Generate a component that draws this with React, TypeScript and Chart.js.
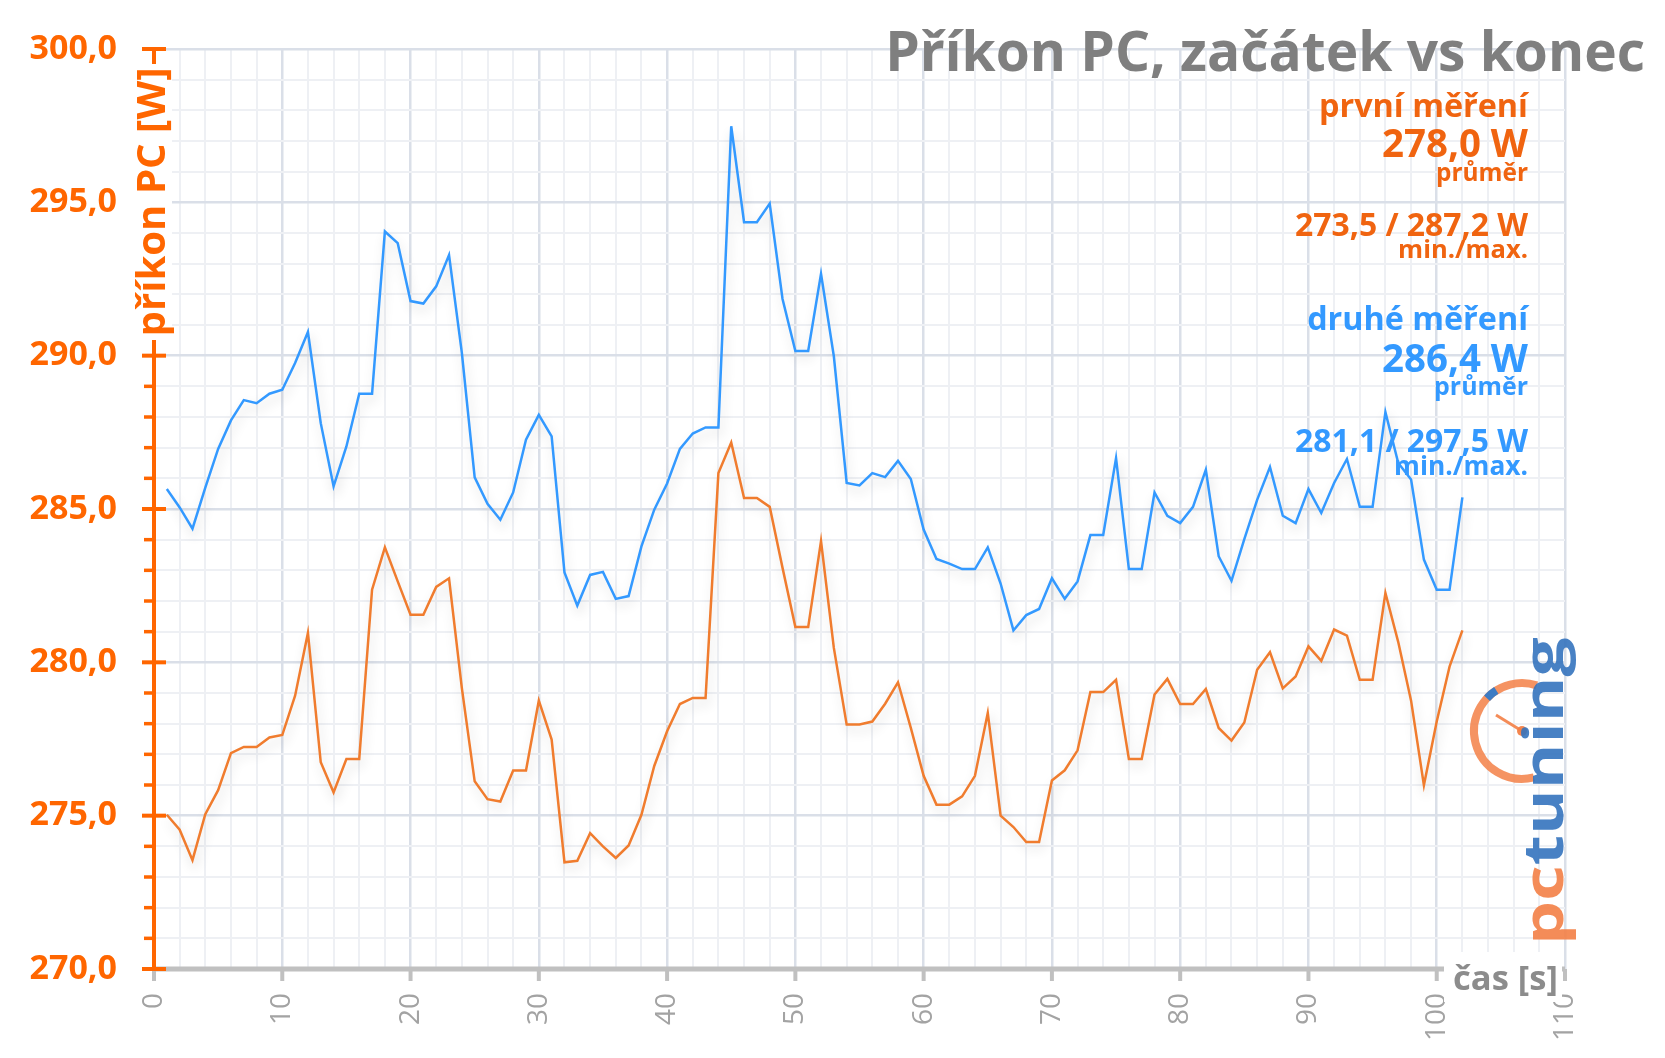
import React, { useEffect, useRef } from 'react';
import { Chart, registerables } from 'chart.js';

Chart.register(...registerables);

// ---------- data ----------
const seconds = [
  1, 2, 3, 4, 5, 6, 7, 8, 9, 10, 11, 12, 13, 14, 15, 16, 17, 18, 19, 20,
  21, 22, 23, 24, 25, 26, 27, 28, 29, 30, 31, 32, 33, 34, 35, 36, 37, 38, 39, 40,
  41, 42, 43, 44, 45, 46, 47, 48, 49, 50, 51, 52, 53, 54, 55, 56, 57, 58, 59, 60,
  61, 62, 63, 64, 65, 66, 67, 68, 69, 70, 71, 72, 73, 74, 75, 76, 77, 78, 79, 80,
  81, 82, 83, 84, 85, 86, 87, 88, 89, 90, 91, 92, 93, 94, 95, 96, 97, 98, 99, 100,
  101, 102,
];

const firstRun = [
  275.03, 274.54, 273.55, 275.05, 275.83, 277.04, 277.24, 277.24, 277.55, 277.63,
  278.91, 280.96, 276.74, 275.76, 276.85, 276.85, 282.37, 283.75, 282.64, 281.55,
  281.55, 282.46, 282.74, 279.16, 276.12, 275.54, 275.46, 276.47, 276.47, 278.75,
  277.48, 273.48, 273.53, 274.43, 274.0, 273.62, 274.03, 275.03, 276.62, 277.75,
  278.64, 278.84, 278.84, 286.17, 287.17, 285.36, 285.36, 285.07, 283.08, 281.15,
  281.15, 283.95, 280.47, 277.97, 277.97, 278.07, 278.65, 279.35, 277.86, 276.3,
  275.36, 275.36, 275.63, 276.3, 278.35, 275.0, 274.63, 274.14, 274.14, 276.15,
  276.48, 277.13, 279.03, 279.03, 279.43, 276.85, 276.85, 278.95, 279.46, 278.64,
  278.64, 279.13, 277.86, 277.45, 278.04, 279.76, 280.33, 279.15, 279.54, 280.52,
  280.05, 281.07, 280.87, 279.43, 279.43, 282.26, 280.66, 278.75, 275.99, 278.07,
  279.86, 281.04,
];

const secondRun = [
  285.65, 285.05, 284.36, 285.7, 286.96, 287.89, 288.55, 288.45, 288.76, 288.89,
  289.76, 290.77, 287.8, 285.74, 287.04, 288.76, 288.76, 294.05, 293.67, 291.78,
  291.7, 292.26, 293.28, 290.09, 286.03, 285.17, 284.65, 285.54, 287.26, 288.07,
  287.37, 282.93, 281.85, 282.85, 282.95, 282.07, 282.16, 283.78, 284.98, 285.83,
  286.96, 287.46, 287.66, 287.66, 297.48, 294.35, 294.35, 294.96, 291.85, 290.15,
  290.15, 292.67, 289.98, 285.85, 285.77, 286.17, 286.04, 286.57, 285.98, 284.33,
  283.37, 283.22, 283.04, 283.04, 283.75, 282.57, 281.04, 281.54, 281.74, 282.74,
  282.07, 282.64, 284.15, 284.15, 286.66, 283.04, 283.04, 285.54, 284.78, 284.54,
  285.07, 286.28, 283.46, 282.66, 284.02, 285.3, 286.37, 284.78, 284.54, 285.65,
  284.87, 285.85, 286.63, 285.07, 285.07, 288.16, 286.5, 285.96, 283.35, 282.37,
  282.37, 285.38,
];

const TITLE = 'Příkon PC, začátek vs konec';
const Y_TITLE = 'příkon PC [W]';
const X_TITLE = 'čas [s]';
const firstName = 'první měření';
const firstAvg = '278,0 W';
const firstMinMax = '273,5 / 287,2 W';
const secondName = 'druhé měření';
const secondAvg = '286,4 W';
const secondMinMax = '281,1 / 297,5 W';
const avgCaption = 'průměr';
const minMaxCaption = 'min./max.';
const logoA = 'pc';
const logoB = 'tuning';

// ---------- styles ----------
const FONT = '"Open Sans", "DejaVu Sans", sans-serif';
const ORANGE_AXIS = '#ff6600';
const ORANGE_TEXT = '#f06410';
const ORANGE_LINE = '#f07c2e';
const BLUE = '#3399ff';
const GRID_MAJOR = '#dadfe8';
const GRID_MINOR = '#eef0f4';
const GRAY_AXIS = '#c0c0c0';

function setFit(ctx: CanvasRenderingContext2D, text: string, weight: string, targetW: number) {
  ctx.font = `${weight} 100px ${FONT}`;
  const w = ctx.measureText(text).width;
  const size = (100 * targetW) / w;
  ctx.font = `${weight} ${size}px ${FONT}`;
  return size;
}

function rightText(ctx: CanvasRenderingContext2D, text: string, color: string, targetW: number, x: number, baseline: number) {
  setFit(ctx, text, '700', targetW);
  ctx.fillStyle = color;
  ctx.textAlign = 'right';
  ctx.textBaseline = 'alphabetic';
  ctx.fillText(text, x, baseline);
}

const shadowPlugin = {
  id: 'lineShadow',
  beforeDatasetsDraw(chart: any) {
    const c = chart.ctx;
    c.save();
    c.shadowColor = 'rgba(0,0,0,0.16)';
    c.shadowBlur = 12;
    c.shadowOffsetX = 2;
    c.shadowOffsetY = 6;
  },
  afterDatasetsDraw(chart: any) {
    chart.ctx.restore();
  },
};

const decorPlugin = {
  id: 'decor',
  afterDraw(chart: any) {
    const ctx: CanvasRenderingContext2D = chart.ctx;
    const ca = chart.chartArea;
    const xs = chart.scales.x;
    const ys = chart.scales.y;
    ctx.save();

    // x axis line + ticks
    ctx.strokeStyle = GRAY_AXIS;
    ctx.lineWidth = 5;
    ctx.beginPath();
    ctx.moveTo(ca.left, ca.bottom);
    ctx.lineTo(ca.right, ca.bottom);
    ctx.stroke();
    ctx.lineWidth = 4;
    xs.ticks.forEach((t: any) => {
      if (Math.round(t.value) % 10 !== 0) return;
      const px = xs.getPixelForValue(t.value);
      ctx.beginPath();
      ctx.moveTo(px, ca.bottom);
      ctx.lineTo(px, ca.bottom + 12);
      ctx.stroke();
    });

    // y axis line + ticks
    ctx.strokeStyle = ORANGE_AXIS;
    ctx.lineWidth = 4;
    ctx.beginPath();
    ctx.moveTo(ca.left, ca.top - 1);
    ctx.lineTo(ca.left, ca.bottom + 2);
    ctx.stroke();
    ys.ticks.forEach((t: any) => {
      const py = ys.getPixelForValue(t.value);
      const major = Math.round(t.value) % 5 === 0;
      ctx.lineWidth = major ? 4 : 3.5;
      ctx.beginPath();
      ctx.moveTo(ca.left - (major ? 12 : 10), py);
      ctx.lineTo(major ? ca.left + 12 : ca.left, py);
      ctx.stroke();
    });

    // y axis title with white backing
    ctx.fillStyle = '#ffffff';
    ctx.fillRect(ca.left - 26, 64, 44, 276);
    ctx.save();
    ctx.translate(ca.left + 11, 202);
    ctx.rotate(-Math.PI / 2);
    setFit(ctx, Y_TITLE, '700', 269);
    ctx.fillStyle = ORANGE_AXIS;
    ctx.textAlign = 'center';
    ctx.textBaseline = 'alphabetic';
    ctx.fillText(Y_TITLE, 0, 0);
    ctx.restore();

    // x axis title with white backing
    ctx.fillStyle = '#ffffff';
    ctx.fillRect(1444, 952, 118, 50);
    setFit(ctx, X_TITLE, '700', 105);
    ctx.fillStyle = '#8c8c8c';
    ctx.textAlign = 'left';
    ctx.textBaseline = 'alphabetic';
    ctx.fillText(X_TITLE, 1453, 990);

    // main title
    rightText(ctx, TITLE, '#7f7f7f', 760, 1645, 71);

    // annotations
    const rx = 1528;
    rightText(ctx, firstName, ORANGE_TEXT, 209, rx, 117);
    rightText(ctx, firstAvg, ORANGE_TEXT, 146, rx, 157);
    rightText(ctx, avgCaption, ORANGE_TEXT, 92, rx, 181);
    rightText(ctx, firstMinMax, ORANGE_TEXT, 233, rx, 236);
    rightText(ctx, minMaxCaption, ORANGE_TEXT, 130, rx, 258);
    rightText(ctx, secondName, BLUE, 221, rx, 330);
    rightText(ctx, secondAvg, BLUE, 146, rx, 372);
    rightText(ctx, avgCaption, BLUE, 94, rx, 395);
    rightText(ctx, secondMinMax, BLUE, 233, rx, 452);
    rightText(ctx, minMaxCaption, BLUE, 134, rx, 475);

    // logo: gauge
    const cx = 1522, cy = 731, r = 48;
    ctx.lineCap = 'butt';
    ctx.strokeStyle = 'rgba(243,128,70,0.85)';
    ctx.lineWidth = 8;
    ctx.beginPath();
    ctx.arc(cx, cy, r, 0.42 * Math.PI, 1.6 * Math.PI);
    ctx.stroke();
    ctx.strokeStyle = '#3d7cc4';
    ctx.beginPath();
    ctx.arc(cx, cy, r, 1.24 * Math.PI, 1.32 * Math.PI);
    ctx.stroke();
    ctx.strokeStyle = 'rgba(243,128,70,0.9)';
    ctx.lineWidth = 3;
    ctx.beginPath();
    ctx.moveTo(cx, cy);
    ctx.lineTo(cx - 26, cy - 16);
    ctx.stroke();
    ctx.fillStyle = 'rgba(243,128,70,0.95)';
    ctx.beginPath();
    ctx.arc(cx, cy, 5, 0, Math.PI * 2);
    ctx.fill();

    // logo: text
    ctx.save();
    ctx.translate(1563, 945);
    ctx.rotate(-Math.PI / 2);
    ctx.scale(1, 0.8);
    setFit(ctx, logoA + logoB, '700', 308);
    ctx.textAlign = 'left';
    ctx.textBaseline = 'alphabetic';
    ctx.fillStyle = 'rgba(243,128,70,0.9)';
    ctx.fillText(logoA, 0, 0);
    const wa = ctx.measureText(logoA).width;
    ctx.fillStyle = 'rgba(52,115,190,0.9)';
    ctx.fillText(logoB, wa, 0);
    ctx.restore();

    ctx.restore();
  },
};

export default function App() {
  const ref = useRef<HTMLCanvasElement>(null);

  useEffect(() => {
    if (!ref.current) return;
    const chart = new Chart(ref.current, {
      type: 'line',
      data: {
        datasets: [
          {
            label: firstName,
            data: seconds.map((s, i) => ({ x: s, y: firstRun[i] })),
            borderColor: ORANGE_LINE,
            borderWidth: 2.5,
            pointRadius: 0,
            tension: 0,
            fill: false,
          },
          {
            label: secondName,
            data: seconds.map((s, i) => ({ x: s, y: secondRun[i] })),
            borderColor: BLUE,
            borderWidth: 2.5,
            pointRadius: 0,
            tension: 0,
            fill: false,
          },
        ],
      },
      options: {
        responsive: false,
        animation: false,
        devicePixelRatio: 1,
        layout: { padding: { left: 0, right: 100, top: 49, bottom: 0 } },
        plugins: {
          legend: { display: false },
          tooltip: { enabled: false },
          title: { display: false },
        },
        scales: {
          x: {
            type: 'linear',
            min: 0,
            max: 110,
            afterFit: (s: any) => {
              s.height = 89;
              s.paddingLeft = 0;
              s.paddingRight = 0;
            },
            border: { display: false },
            grid: {
              drawTicks: false,
              color: (c: any) => (c.tick && Math.round(c.tick.value) % 10 === 0 ? GRID_MAJOR : GRID_MINOR),
              lineWidth: (c: any) => (c.tick && Math.round(c.tick.value) % 10 === 0 ? 2.5 : 2),
            },
            ticks: {
              stepSize: 2,
              autoSkip: false,
              maxTicksLimit: 1000,
              minRotation: 90,
              maxRotation: 90,
              padding: 24,
              color: '#a3a3a3',
              font: { family: FONT, size: 28, weight: 'normal' },
              callback: (v: any) => (Math.round(v) % 10 === 0 ? String(Math.round(v)) : ''),
            },
          },
          y: {
            min: 270,
            max: 300,
            afterFit: (s: any) => {
              s.width = 154;
              s.paddingTop = 0;
              s.paddingBottom = 0;
            },
            border: { display: false },
            grid: {
              drawTicks: false,
              color: (c: any) => (c.tick && Math.round(c.tick.value) % 5 === 0 ? GRID_MAJOR : GRID_MINOR),
              lineWidth: (c: any) => (c.tick && Math.round(c.tick.value) % 5 === 0 ? 2.5 : 2),
            },
            ticks: {
              stepSize: 1,
              autoSkip: false,
              maxTicksLimit: 1000,
              padding: 37,
              color: ORANGE_AXIS,
              font: { family: FONT, size: 34, weight: 'bold' },
              callback: (v: any) => (Math.round(v) % 5 === 0 ? Number(v).toFixed(1).replace('.', ',') : ''),
            },
          },
        },
      },
      plugins: [shadowPlugin, decorPlugin],
    } as any);
    return () => chart.destroy();
  }, []);

  return (
    <div style={{ position: 'fixed', left: 0, top: 0, width: 1665, height: 1058, background: '#ffffff' }}>
      <canvas ref={ref} width={1665} height={1058} style={{ display: 'block', width: 1665, height: 1058 }} />
    </div>
  );
}
